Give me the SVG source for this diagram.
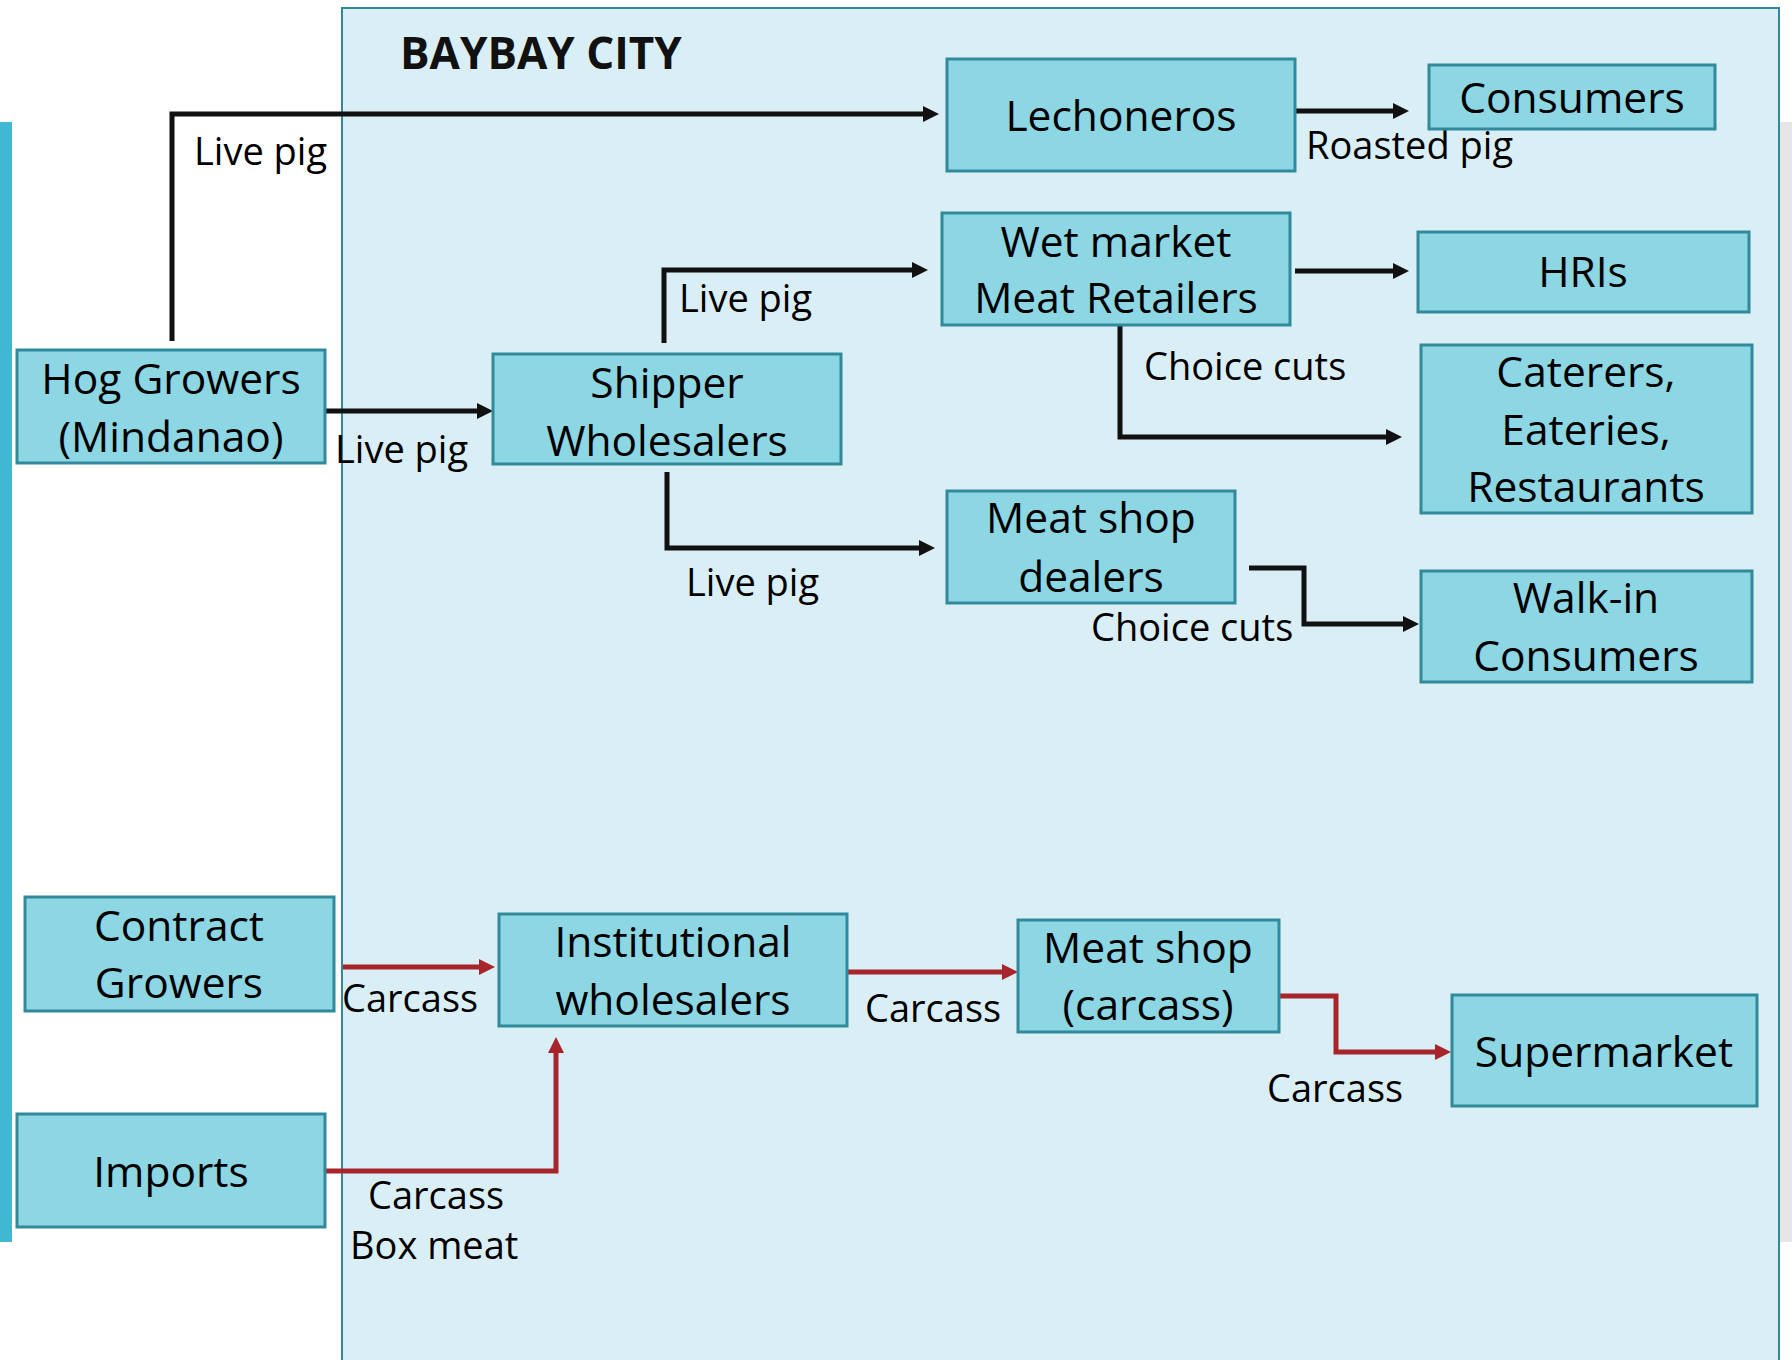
<svg xmlns="http://www.w3.org/2000/svg" width="1792" height="1360" viewBox="0 0 1792 1360">
<defs>
<style>
.node rect{fill:#8dd6e3;stroke:#31899c;stroke-width:3}
.node text{font-family:"Open Sans","Noto Sans",sans-serif;font-size:42.5px;fill:#000;text-anchor:middle}
.lbl{font-family:"Open Sans","Noto Sans",sans-serif;font-size:38px;fill:#000}
.blk{fill:none;stroke:#111;stroke-width:5;marker-end:url(#ab)}
.red{fill:none;stroke:#a8242b;stroke-width:5;marker-end:url(#ar)}
</style>
<marker id="ab" markerUnits="userSpaceOnUse" markerWidth="16" markerHeight="16" refX="2" refY="8" orient="auto"><path d="M0,0 L16,8 L0,16 z" fill="#111"/></marker>
<marker id="ar" markerUnits="userSpaceOnUse" markerWidth="16" markerHeight="16" refX="2" refY="8" orient="auto"><path d="M0,0 L16,8 L0,16 z" fill="#a8242b"/></marker>
</defs>
<rect x="0" y="0" width="1792" height="1360" fill="#fff"/>
<rect x="1779" y="122" width="13" height="1120" fill="#e6e6e6"/>
<rect x="0" y="122" width="12" height="1120" fill="#41b8d3"/>
<rect id="baybay" x="342" y="8" width="1437" height="1360" fill="#daeff5" stroke="#31899c" stroke-width="2"/>
<text x="400" y="69" font-family="'Open Sans','Noto Sans',sans-serif" font-size="44" font-weight="bold" fill="#111">BAYBAY CITY</text>

<g id="connectors">
<path class="blk" d="M172,341 V114 H925"/>
<path class="blk" d="M325,411 H479"/>
<path class="blk" d="M664,343 V270 H914"/>
<path class="blk" d="M1295,111 H1395"/>
<path class="blk" d="M1295,271 H1395"/>
<path class="blk" d="M1120,325 V437 H1388"/>
<path class="blk" d="M667,472 V548 H921"/>
<path class="blk" d="M1249,568 H1304 V624 H1405"/>
<path class="red" d="M343,967 H481"/>
<path class="red" d="M325,1171 H556 V1051"/>
<path class="red" d="M847,972 H1004"/>
<path class="red" d="M1279,996 H1336 V1052 H1437"/>
<text class="lbl" x="194" y="165">Live pig</text>
<text class="lbl" x="335" y="463">Live pig</text>
<text class="lbl" x="679" y="312">Live pig</text>
<text class="lbl" x="686" y="596">Live pig</text>
<text class="lbl" x="1306" y="159">Roasted pig</text>
<text class="lbl" x="1144" y="380">Choice cuts</text>
<text class="lbl" x="1091" y="641">Choice cuts</text>
<text class="lbl" x="342" y="1012">Carcass</text>
<text class="lbl" x="865" y="1022">Carcass</text>
<text class="lbl" x="1267" y="1102">Carcass</text>
<text class="lbl" x="368" y="1209">Carcass</text>
<text class="lbl" x="350" y="1259">Box meat</text>
</g>

<g id="hog" class="node"><rect x="17" y="350" width="308" height="113"/><text x="171" y="394">Hog Growers</text><text x="171" y="452">(Mindanao)</text></g>
<g id="shipper" class="node"><rect x="493" y="354" width="348" height="110"/><text x="667" y="398">Shipper</text><text x="667" y="456">Wholesalers</text></g>
<g id="lechoneros" class="node"><rect x="947" y="59" width="348" height="112"/><text x="1121" y="131">Lechoneros</text></g>
<g id="consumers" class="node"><rect x="1429" y="65" width="286" height="64"/><text x="1572" y="113">Consumers</text></g>
<g id="wetmarket" class="node"><rect x="942" y="213" width="348" height="112"/><text x="1116" y="257">Wet market</text><text x="1116" y="313">Meat Retailers</text></g>
<g id="hris" class="node"><rect x="1418" y="232" width="331" height="80"/><text x="1583" y="287">HRIs</text></g>
<g id="caterers" class="node"><rect x="1421" y="345" width="331" height="168"/><text x="1586" y="387">Caterers,</text><text x="1586" y="445">Eateries,</text><text x="1586" y="502">Restaurants</text></g>
<g id="dealers" class="node"><rect x="947" y="491" width="288" height="112"/><text x="1091" y="533">Meat shop</text><text x="1091" y="592">dealers</text></g>
<g id="walkin" class="node"><rect x="1421" y="571" width="331" height="111"/><text x="1586" y="613">Walk-in</text><text x="1586" y="671">Consumers</text></g>
<g id="contract" class="node"><rect x="25" y="897" width="309" height="114"/><text x="179" y="941">Contract</text><text x="179" y="998">Growers</text></g>
<g id="institutional" class="node"><rect x="499" y="914" width="348" height="112"/><text x="673" y="957">Institutional</text><text x="673" y="1015">wholesalers</text></g>
<g id="imports" class="node"><rect x="17" y="1114" width="308" height="113"/><text x="171" y="1187">Imports</text></g>
<g id="meatshop" class="node"><rect x="1018" y="920" width="261" height="112"/><text x="1148" y="963">Meat shop</text><text x="1148" y="1020">(carcass)</text></g>
<g id="supermarket" class="node"><rect x="1452" y="995" width="305" height="111"/><text x="1604" y="1067">Supermarket</text></g>
</svg>
